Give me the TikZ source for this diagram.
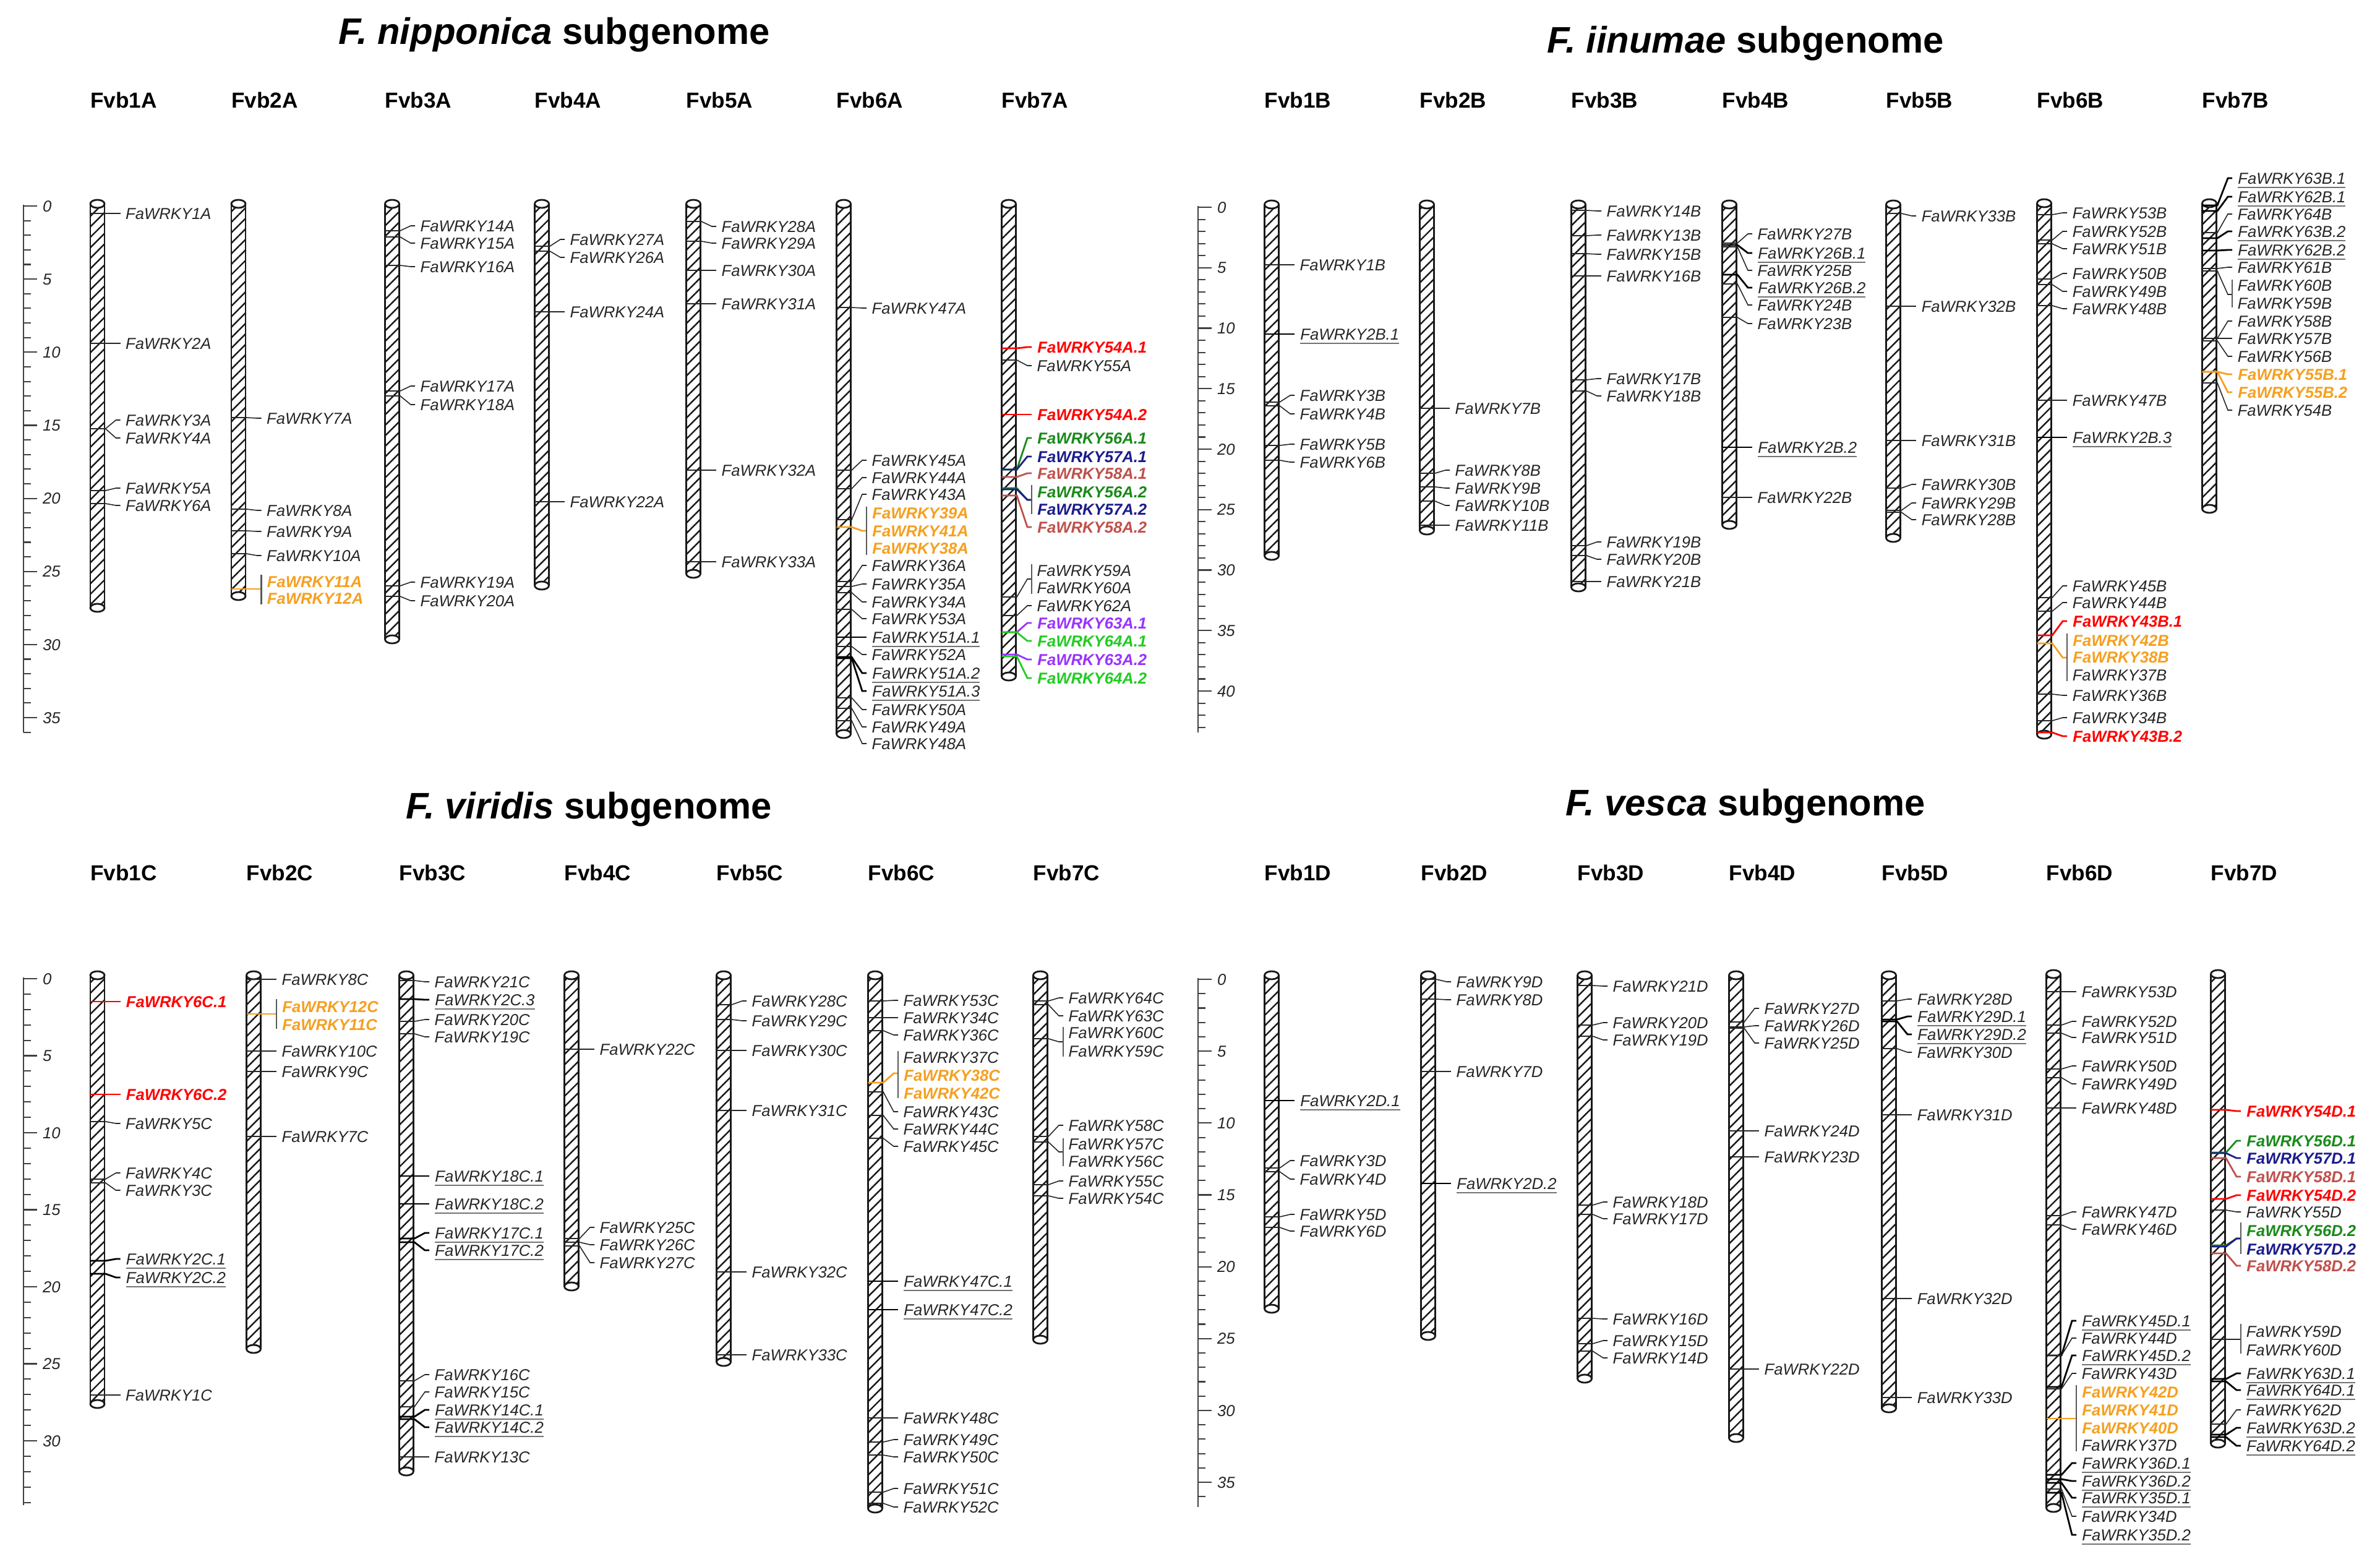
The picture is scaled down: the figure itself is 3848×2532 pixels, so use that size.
\documentclass[tikz,border=0pt]{standalone}
\usepackage{fontspec}
\setmainfont{Liberation Sans}
\usetikzlibrary{patterns.meta}
\definecolor{cOr}{HTML}{F5A020}
\definecolor{cRd}{HTML}{FF0000}
\definecolor{cDG}{HTML}{1A8A1A}
\definecolor{cBl}{HTML}{1C1C8C}
\definecolor{cBr}{HTML}{C0504D}
\definecolor{cPu}{HTML}{9933FF}
\definecolor{cLg}{HTML}{22CC22}
\newcommand\lf{\fontsize{7.3}{8}\selectfont\itshape}
\newcommand\F[1]{FaWRKY#1}
\newcommand\ulbox[1]{\setbox0=\hbox{#1}\rlap{\color{black!55}\rule[-2pt]{\wd0}{0.5pt}}\box0}
\newcommand\U[1]{\ulbox{FaWRKY#1}}
\newcounter{gc}
\newcommand\GN[5][]{%
  \stepcounter{gc}%
  \node[lbl,#1] (L\thegc) at ({#2+37},#4) {#5};
  \coordinate (M\thegc) at ({#2-11.5},#3);
  \draw[conn,#1] (M\thegc) -- ++(24.5,0) -- ({#2+30},#4) -- (L\thegc.west);
}
\newcommand\GL[4][]{%
  \stepcounter{gc}%
  \node[lbl,#1] (L\thegc) at ({#2+37},#3) {#4};
}
\newcommand\BC[4][]{%
  \stepcounter{gc}%
  \coordinate (M\thegc) at ({#2-11.5},#3);
  \coordinate (B\thegc) at ({#2+37},#4);
  \draw[conn,#1] (M\thegc) -- ++(24.5,0) -- ({#2+30},#4) -- (B\thegc);
}
\newcommand\BK[3]{\draw[brk] ({#1+37},#2) -- ({#1+37},#3);}
\newcommand\CH[3]{%
  \fill[pattern={Lines[angle=45,distance=1.2mm,line width=0.7pt]},pattern color=black!90]
     ({#1-11.5},{#2+6.5}) rectangle ({#1+11.5},{#3-6.5});
  \draw[chl] ({#1-11.5},{#2+6.5}) -- ({#1-11.5},{#3-6.5});
  \draw[chl] ({#1+11.5},{#2+6.5}) -- ({#1+11.5},{#3-6.5});
  \draw[chl,fill=white] (#1,{#2+6.5}) ellipse [x radius=11.5, y radius=6.5];
  \draw[chl,fill=white] (#1,{#3-6.5}) ellipse [x radius=11.5, y radius=6.5];
}
\newcommand\SB[5]{%
  \draw[sbl] (#1,{#2-2}) -- (#1,#5);
  \foreach \i in {0,...,#4}{%
    \pgfmathtruncatemacro\mm{mod(\i,5)}%
    \ifnum\mm=0
      \draw[sbl] (#1,{#2+\i*#3}) -- ++(22,0) node[tlbl]{\i};
    \else
      \draw[sbl] (#1,{#2+\i*#3}) -- ++(12,0);
    \fi}%
}
\begin{document}
\begin{tikzpicture}[x=0.1mm,y=-0.1mm,
  lbl/.style={anchor=west, inner xsep=0.8mm, inner ysep=0pt, font=\lf, text=black!85, text height=5.2pt, text depth=0pt},
  tlbl/.style={anchor=west, inner xsep=0.8mm, inner ysep=0pt, font=\lf, text=black!85, text height=5.2pt, text depth=0pt},
  conn/.style={draw=black!85, line width=0.45pt},
  dup/.style={color=black, text=black!85, line width=0.8pt},
  gOr/.style={color=cOr, text=cOr, font=\lf\bfseries, line width=0.8pt},
  gRd/.style={color=cRd, text=cRd, font=\lf\bfseries, line width=0.8pt},
  gDG/.style={color=cDG, text=cDG, font=\lf\bfseries, line width=0.8pt},
  gBl/.style={color=cBl, text=cBl, font=\lf\bfseries, line width=0.8pt},
  gBr/.style={color=cBr, text=cBr, font=\lf\bfseries, line width=0.8pt},
  gPu/.style={color=cPu, text=cPu, font=\lf\bfseries, line width=0.8pt},
  gLg/.style={color=cLg, text=cLg, font=\lf\bfseries, line width=0.8pt},
  brk/.style={draw=black!65, line width=0.8pt},
  chl/.style={draw=black!90, line width=0.8pt},
  sbl/.style={draw=black!75, line width=0.6pt},
  cname/.style={anchor=west, inner sep=0pt, font=\fontsize{10}{12}\selectfont\bfseries},
  ttl/.style={inner sep=0pt, font=\fontsize{17}{20}\selectfont\bfseries}]
\useasboundingbox[fill=white] (0,0) rectangle (3848,2532);

% ---------------- titles ----------------
\node[ttl] (tA) at (896,56) {\textit{F. nipponica} subgenome};
\node[ttl] (tB) at (2822,70) {\textit{F. iinumae} subgenome};
\node[ttl] (tC) at (952,1308) {\textit{F. viridis} subgenome};
\node[ttl] (tD) at (2822,1303) {\textit{F. vesca} subgenome};

% ---------------- chromosome names ----------------
\node[cname] (n1A) at ({157.5-12},162) {Fvb1A};
\node[cname] (n2A) at ({385.5-12},162) {Fvb2A};
\node[cname] (n3A) at ({634-12},162) {Fvb3A};
\node[cname] (n4A) at ({876-12},162) {Fvb4A};
\node[cname] (n5A) at ({1121-12},162) {Fvb5A};
\node[cname] (n6A) at ({1364-12},162) {Fvb6A};
\node[cname] (n7A) at ({1631-12},162) {Fvb7A};
\node[cname] (n1B) at ({2056-12},162) {Fvb1B};
\node[cname] (n2B) at ({2307-12},162) {Fvb2B};
\node[cname] (n3B) at ({2552-12},162) {Fvb3B};
\node[cname] (n4B) at ({2796-12},162) {Fvb4B};
\node[cname] (n5B) at ({3061-12},162) {Fvb5B};
\node[cname] (n6B) at ({3305-12},162) {Fvb6B};
\node[cname] (n7B) at ({3572-12},162) {Fvb7B};
\node[cname] (n1C) at ({157.5-12},1411) {Fvb1C};
\node[cname] (n2C) at ({410-12},1411) {Fvb2C};
\node[cname] (n3C) at ({657-12},1411) {Fvb3C};
\node[cname] (n4C) at ({924-12},1411) {Fvb4C};
\node[cname] (n5C) at ({1170-12},1411) {Fvb5C};
\node[cname] (n6C) at ({1415-12},1411) {Fvb6C};
\node[cname] (n7C) at ({1682-12},1411) {Fvb7C};
\node[cname] (n1D) at ({2056-12},1411) {Fvb1D};
\node[cname] (n2D) at ({2309-12},1411) {Fvb2D};
\node[cname] (n3D) at ({2562-12},1411) {Fvb3D};
\node[cname] (n4D) at ({2807-12},1411) {Fvb4D};
\node[cname] (n5D) at ({3054-12},1411) {Fvb5D};
\node[cname] (n6D) at ({3320-12},1411) {Fvb6D};
\node[cname] (n7D) at ({3586-12},1411) {Fvb7D};

% ---------------- scale bars ----------------
\SB{38}{333}{23.63}{36}{1184}
\SB{1937}{335}{19.55}{43}{1184}
\SB{38}{1582}{24.9}{34}{2433}
\SB{1937}{1583}{23.23}{36}{2436}

% ---------------- chromosomes ----------------
\CH{157.5}{323}{989}
\CH{385.5}{323}{970}
\CH{634}{323}{1040}
\CH{876}{323}{953}
\CH{1121}{323}{934}
\CH{1364}{323}{1193}
\CH{1631}{323}{1100}
\CH{2056}{324}{905}
\CH{2307}{324}{864}
\CH{2552}{324}{956}
\CH{2796}{324}{855}
\CH{3061}{324}{876}
\CH{3305}{322}{1194}
\CH{3572}{322}{829}
\CH{157.5}{1570}{2276}
\CH{410}{1570}{2187}
\CH{657}{1570}{2385}
\CH{924}{1570}{2086}
\CH{1170}{1570}{2208}
\CH{1415}{1570}{2445}
\CH{1682}{1570}{2172}
\CH{2056}{1570}{2122}
\CH{2309}{1570}{2166}
\CH{2562}{1570}{2235}
\CH{2807}{1570}{2331}
\CH{3054}{1570}{2283}
\CH{3320}{1568}{2444}
\CH{3586}{1568}{2340}

% ================= Panel A =================
\GN{157.5}{345}{345}{\F{1A}}
\GN{157.5}{555}{555}{\F{2A}}
\GN{157.5}{693}{679}{\F{3A}}
\GN{157.5}{693}{708}{\F{4A}}
\GN{157.5}{793}{789}{\F{5A}}
\GN{157.5}{814}{817}{\F{6A}}
\GN{385.5}{675}{676}{\F{7A}}
\GN{385.5}{823}{825}{\F{8A}}
\GN{385.5}{858}{859}{\F{9A}}
\GN{385.5}{895}{898}{\F{10A}}
\BC[gOr]{385.5}{952}{952}
\BK{385.5}{929}{977}
\GL[gOr]{385.5}{940}{\F{11A}}
\GL[gOr]{385.5}{967}{\F{12A}}
\GN{634}{373}{365}{\F{14A}}
\GN{634}{383}{393}{\F{15A}}
\GN{634}{429}{431}{\F{16A}}
\GN{634}{632}{624}{\F{17A}}
\GN{634}{640}{654}{\F{18A}}
\GN{634}{947}{941}{\F{19A}}
\GN{634}{964}{971}{\F{20A}}
\GN{876}{398}{387}{\F{27A}}
\GN{876}{406}{416}{\F{26A}}
\GN{876}{504}{504}{\F{24A}}
\GN{876}{811}{811}{\F{22A}}
\GN{1121}{358}{366}{\F{28A}}
\GN{1121}{390}{393}{\F{29A}}
\GN{1121}{437}{437}{\F{30A}}
\GN{1121}{491}{491}{\F{31A}}
\GN{1121}{760}{760}{\F{32A}}
\GN{1121}{908}{908}{\F{33A}}
\GN{1364}{497}{498}{\F{47A}}
\GN{1364}{760}{744}{\F{45A}}
\GN{1364}{790}{772}{\F{44A}}
\GN{1364}{840}{799}{\F{43A}}
\BC[gOr]{1364}{852}{858}
\BK{1364}{819}{897}
\GL[gOr]{1364}{829}{\F{39A}}
\GL[gOr]{1364}{858}{\F{41A}}
\GL[gOr]{1364}{886}{\F{38A}}
\GN{1364}{940}{914}{\F{36A}}
\GN{1364}{948}{944}{\F{35A}}
\GN{1364}{958}{973}{\F{34A}}
\GN{1364}{985}{1000}{\F{53A}}
\GN[dup]{1364}{1030}{1030}{\U{51A.1}}
\GN{1364}{1045}{1058}{\F{52A}}
\GN[dup]{1364}{1062}{1088}{\U{51A.2}}
\GN[dup]{1364}{1064}{1117}{\U{51A.3}}
\GN{1364}{1128}{1147}{\F{50A}}
\GN{1364}{1145}{1175}{\F{49A}}
\GN{1364}{1165}{1202}{\F{48A}}
\GN[gRd]{1631}{563}{561}{\F{54A.1}}
\GN{1631}{582}{591}{\F{55A}}
\GN[gRd]{1631}{670}{670}{\F{54A.2}}
\GN[gDG]{1631}{759}{708}{\F{56A.1}}
\GN[gBl]{1631}{759}{738}{\F{57A.1}}
\GN[gBr]{1631}{771}{765}{\F{58A.1}}
\BC[gDG]{1631}{789}{808}
\BC[gBl]{1631}{791}{808}
\BK{1631}{784}{831}
\GL[gDG]{1631}{795}{\F{56A.2}}
\GL[gBl]{1631}{823}{\F{57A.2}}
\GN[gBr]{1631}{801}{852}{\F{58A.2}}
\BC{1631}{965}{936}
\BK{1631}{912}{960}
\GL{1631}{922}{\F{59A}}
\GL{1631}{950}{\F{60A}}
\GN{1631}{995}{979}{\F{62A}}
\GN[gPu]{1631}{1022}{1007}{\F{63A.1}}
\GN[gLg]{1631}{1022}{1036}{\F{64A.1}}
\GN[gPu]{1631}{1058}{1066}{\F{63A.2}}
\GN[gLg]{1631}{1061}{1096}{\F{64A.2}}

% ================= Panel B =================
\GN{2056}{428}{428}{\F{1B}}
\GN[dup]{2056}{540}{540}{\U{2B.1}}
\GN{2056}{650}{639}{\F{3B}}
\GN{2056}{656}{669}{\F{4B}}
\GN{2056}{720}{718}{\F{5B}}
\GN{2056}{744}{747}{\F{6B}}
\GN{2307}{660}{660}{\F{7B}}
\GN{2307}{765}{760}{\F{8B}}
\GN{2307}{787}{789}{\F{9B}}
\GN{2307}{810}{817}{\F{10B}}
\GN{2307}{849}{849}{\F{11B}}
\GN{2552}{340}{341}{\F{14B}}
\GN{2552}{381}{380}{\F{13B}}
\GN{2552}{410}{411}{\F{15B}}
\GN{2552}{446}{446}{\F{16B}}
\GN{2552}{614}{612}{\F{17B}}
\GN{2552}{632}{640}{\F{18B}}
\GN{2552}{882}{876}{\F{19B}}
\GN{2552}{898}{904}{\F{20B}}
\GN{2552}{940}{940}{\F{21B}}
\GN{2796}{393}{378}{\F{27B}}
\GN[dup]{2796}{396}{409}{\U{26B.1}}
\GN{2796}{399}{437}{\F{25B}}
\GN[dup]{2796}{444}{465}{\U{26B.2}}
\GN{2796}{459}{493}{\F{24B}}
\GN{2796}{513}{523}{\F{23B}}
\GN[dup]{2796}{723}{723}{\U{2B.2}}
\GN{2796}{804}{804}{\F{22B}}
\GN{3061}{345}{349}{\F{33B}}
\GN{3061}{495}{495}{\F{32B}}
\GN{3061}{712}{712}{\F{31B}}
\GN{3061}{789}{783}{\F{30B}}
\GN{3061}{825}{813}{\F{29B}}
\GN{3061}{828}{840}{\F{28B}}
\GN{3305}{347}{344}{\F{53B}}
\GN{3305}{388}{374}{\F{52B}}
\GN{3305}{394}{402}{\F{51B}}
\GN{3305}{451}{442}{\F{50B}}
\GN{3305}{460}{471}{\F{49B}}
\GN{3305}{494}{499}{\F{48B}}
\GN{3305}{647}{647}{\F{47B}}
\GN[dup]{3305}{707}{707}{\U{2B.3}}
\GN{3305}{966}{947}{\F{45B}}
\GN{3305}{988}{974}{\F{44B}}
\GN[gRd]{3305}{1027}{1004}{\F{43B.1}}
\BC[gOr]{3305}{1040}{1063}
\BK{3305}{1024}{1101}
\GL[gOr]{3305}{1035}{\F{42B}}
\GL[gOr]{3305}{1062}{\F{38B}}
\GL{3305}{1091}{\F{37B}}
\GN{3305}{1122}{1124}{\F{36B}}
\GN{3305}{1165}{1160}{\F{34B}}
\GN[gRd]{3305}{1184}{1190}{\F{43B.2}}
\GN[dup]{3572}{332}{288}{\U{63B.1}}
\GN[dup]{3572}{341}{318}{\U{62B.1}}
\GN{3572}{376}{346}{\F{64B}}
\GN[dup]{3572}{385}{374}{\U{63B.2}}
\GN[dup]{3572}{405}{404}{\U{62B.2}}
\GN{3572}{434}{432}{\F{61B}}
\BC{3572}{438}{476}
\BK{3572}{452}{497}
\GL{3572}{461}{\F{60B}}
\GL{3572}{490}{\F{59B}}
\GN{3572}{547}{519}{\F{58B}}
\GN{3572}{547}{547}{\F{57B}}
\GN{3572}{551}{576}{\F{56B}}
\GN[gOr]{3572}{601}{605}{\F{55B.1}}
\GN[gOr]{3572}{601}{634}{\F{55B.2}}
\GN{3572}{619}{663}{\F{54B}}

% ================= Panel C =================
\GN[gRd]{157.5}{1619}{1619}{\F{6C.1}}
\GN[gRd]{157.5}{1769}{1769}{\F{6C.2}}
\GN{157.5}{1813}{1816}{\F{5C}}
\GN{157.5}{1906}{1896}{\F{4C}}
\GN{157.5}{1912}{1924}{\F{3C}}
\GN[dup]{157.5}{2038}{2035}{\U{2C.1}}
\GN[dup]{157.5}{2059}{2065}{\U{2C.2}}
\GN{157.5}{2255}{2255}{\F{1C}}
\GN{410}{1583}{1583}{\F{8C}}
\BC[gOr]{410}{1639}{1639}
\BK{410}{1615}{1663}
\GL[gOr]{410}{1627}{\F{12C}}
\GL[gOr]{410}{1656}{\F{11C}}
\GN{410}{1699}{1699}{\F{10C}}
\GN{410}{1732}{1732}{\F{9C}}
\GN{410}{1837}{1837}{\F{7C}}
\GN{657}{1585}{1587}{\F{21C}}
\GN[dup]{657}{1615}{1616}{\U{2C.3}}
\GN{657}{1651}{1648}{\F{20C}}
\GN{657}{1671}{1676}{\F{19C}}
\GN[dup]{657}{1901}{1901}{\U{18C.1}}
\GN[dup]{657}{1946}{1946}{\U{18C.2}}
\GN[dup]{657}{2002}{1993}{\U{17C.1}}
\GN[dup]{657}{2008}{2021}{\U{17C.2}}
\GN{657}{2232}{2222}{\F{16C}}
\GN{657}{2274}{2250}{\F{15C}}
\GN[dup]{657}{2290}{2279}{\U{14C.1}}
\GN[dup]{657}{2294}{2307}{\U{14C.2}}
\GN{657}{2355}{2355}{\F{13C}}
\GN{924}{1696}{1696}{\F{22C}}
\GN{924}{2002}{1984}{\F{25C}}
\GN{924}{2008}{2012}{\F{26C}}
\GN{924}{2014}{2041}{\F{27C}}
\GN{1170}{1624}{1618}{\F{28C}}
\GN{1170}{1648}{1650}{\F{29C}}
\GN{1170}{1698}{1698}{\F{30C}}
\GN{1170}{1795}{1795}{\F{31C}}
\GN{1170}{2056}{2056}{\F{32C}}
\GN{1170}{2190}{2190}{\F{33C}}
\GN{1415}{1618}{1617}{\F{53C}}
\GN{1415}{1645}{1645}{\F{34C}}
\GN{1415}{1666}{1673}{\F{36C}}
\BC[gOr]{1415}{1750}{1735}
\BK{1415}{1699}{1775}
\GL{1415}{1709}{\F{37C}}
\GL[gOr]{1415}{1738}{\F{38C}}
\GL[gOr]{1415}{1767}{\F{42C}}
\GN{1415}{1765}{1797}{\F{43C}}
\GN{1415}{1803}{1825}{\F{44C}}
\GN{1415}{1840}{1853}{\F{45C}}
\GN[dup]{1415}{2071}{2071}{\U{47C.1}}
\GN[dup]{1415}{2117}{2117}{\U{47C.2}}
\GN{1415}{2292}{2292}{\F{48C}}
\GN{1415}{2331}{2327}{\F{49C}}
\GN{1415}{2352}{2355}{\F{50C}}
\GN{1415}{2412}{2406}{\F{51C}}
\GN{1415}{2430}{2436}{\F{52C}}
\GN{1682}{1618}{1613}{\F{64C}}
\GN{1682}{1624}{1642}{\F{63C}}
\BC{1682}{1679}{1684}
\BK{1682}{1660}{1708}
\GL{1682}{1669}{\F{60C}}
\GL{1682}{1699}{\F{59C}}
\GN{1682}{1837}{1819}{\F{58C}}
\BC{1682}{1846}{1862}
\BK{1682}{1840}{1885}
\GL{1682}{1849}{\F{57C}}
\GL{1682}{1877}{\F{56C}}
\GN{1682}{1915}{1909}{\F{55C}}
\GN{1682}{1933}{1937}{\F{54C}}

% ================= Panel D =================
\GN[dup]{2056}{1779}{1779}{\U{2D.1}}
\GN{2056}{1888}{1876}{\F{3D}}
\GN{2056}{1894}{1906}{\F{4D}}
\GN{2056}{1967}{1963}{\F{5D}}
\GN{2056}{1984}{1990}{\F{6D}}
\GN{2309}{1583}{1587}{\F{9D}}
\GN{2309}{1615}{1616}{\F{8D}}
\GN{2309}{1732}{1732}{\F{7D}}
\GN[dup]{2309}{1913}{1913}{\U{2D.2}}
\GN{2562}{1593}{1594}{\F{21D}}
\GN{2562}{1657}{1653}{\F{20D}}
\GN{2562}{1675}{1681}{\F{19D}}
\GN{2562}{1948}{1943}{\F{18D}}
\GN{2562}{1963}{1970}{\F{17D}}
\GN{2562}{2131}{2132}{\F{16D}}
\GN{2562}{2172}{2167}{\F{15D}}
\GN{2562}{2184}{2195}{\F{14D}}
\GN{2807}{1652}{1630}{\F{27D}}
\GN{2807}{1660}{1658}{\F{26D}}
\GN{2807}{1662}{1686}{\F{25D}}
\GN{2807}{1828}{1828}{\F{24D}}
\GN{2807}{1870}{1870}{\F{23D}}
\GN{2807}{2213}{2213}{\F{22D}}
\GN{3054}{1618}{1615}{\F{28D}}
\GN[dup]{3054}{1648}{1643}{\U{29D.1}}
\GN[dup]{3054}{1651}{1672}{\U{29D.2}}
\GN{3054}{1695}{1701}{\F{30D}}
\GN{3054}{1802}{1802}{\F{31D}}
\GN{3054}{2099}{2099}{\F{32D}}
\GN{3054}{2259}{2259}{\F{33D}}
\GN{3320}{1603}{1603}{\F{53D}}
\GN{3320}{1657}{1651}{\F{52D}}
\GN{3320}{1670}{1677}{\F{51D}}
\GN{3320}{1728}{1723}{\F{50D}}
\GN{3320}{1742}{1752}{\F{49D}}
\GN{3320}{1791}{1791}{\F{48D}}
\GN{3320}{1965}{1959}{\F{47D}}
\GN{3320}{1980}{1987}{\F{46D}}
\GN[dup]{3320}{2191}{2135}{\U{45D.1}}
\GN{3320}{2191}{2163}{\F{44D}}
\GN[dup]{3320}{2242}{2191}{\U{45D.2}}
\GN{3320}{2245}{2220}{\F{43D}}
\BC[gOr]{3320}{2293}{2293}
\BK{3320}{2239}{2346}
\GL[gOr]{3320}{2250}{\F{42D}}
\GL[gOr]{3320}{2279}{\F{41D}}
\GL[gOr]{3320}{2308}{\F{40D}}
\GL{3320}{2336}{\F{37D}}
\GN[dup]{3320}{2384}{2365}{\U{36D.1}}
\GN[dup]{3320}{2391}{2394}{\U{36D.2}}
\GN[dup]{3320}{2397}{2421}{\U{35D.1}}
\GN{3320}{2407}{2451}{\F{34D}}
\GN[dup]{3320}{2413}{2481}{\U{35D.2}}
\GN[gRd]{3586}{1794}{1796}{\F{54D.1}}
\GN[gDG]{3586}{1863}{1844}{\F{56D.1}}
\GN[gBl]{3586}{1864}{1872}{\F{57D.1}}
\GN[gBr]{3586}{1872}{1902}{\F{58D.1}}
\GN[gRd]{3586}{1938}{1932}{\F{54D.2}}
\GN{3586}{1956}{1959}{\F{55D}}
\BC[gDG]{3586}{2013}{2002}
\BC[gBl]{3586}{2015}{2002}
\BK{3586}{1976}{2027}
\GL[gDG]{3586}{1989}{\F{56D.2}}
\GL[gBl]{3586}{2019}{\F{57D.2}}
\GN[gBr]{3586}{2026}{2046}{\F{58D.2}}
\BC{3586}{2165}{2165}
\BK{3586}{2140}{2188}
\GL{3586}{2152}{\F{59D}}
\GL{3586}{2182}{\F{60D}}
\GN[dup]{3586}{2229}{2220}{\U{63D.1}}
\GN[dup]{3586}{2233}{2247}{\U{64D.1}}
\GN{3586}{2302}{2279}{\F{62D}}
\GN[dup]{3586}{2319}{2308}{\U{63D.2}}
\GN[dup]{3586}{2323}{2337}{\U{64D.2}}
\end{tikzpicture}
\end{document}
